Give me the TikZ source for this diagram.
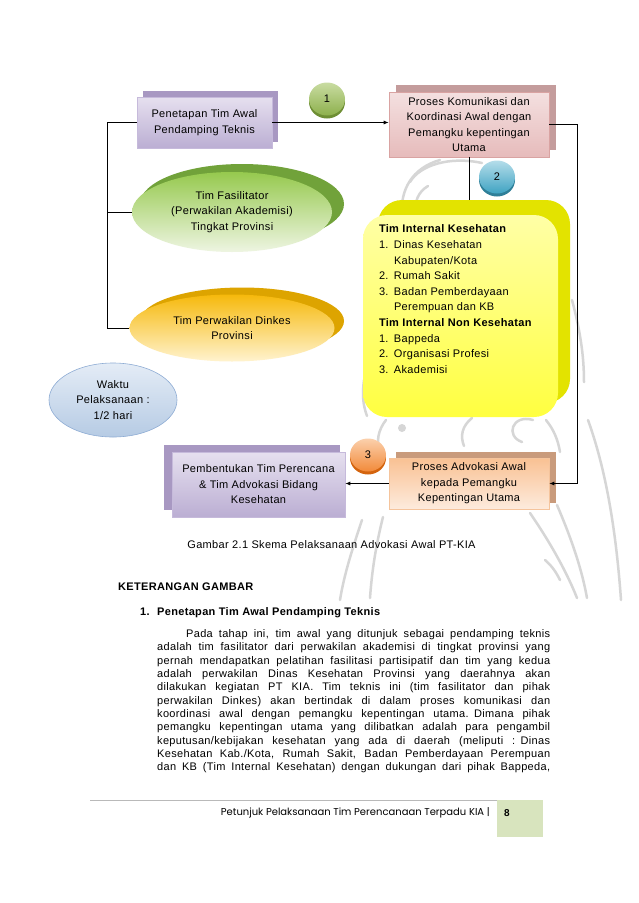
\documentclass[tikz,border=0pt]{standalone}
\usepackage{fontspec}
\setmainfont[LetterSpace=3]{Liberation Sans}
\newfontfamily\footfont{Poppins}
\usetikzlibrary{arrows.meta,positioning,shapes.geometric,calc}
\definecolor{LilacBack}{HTML}{A898C2}
\definecolor{LilacTop}{HTML}{E6E0EF}
\definecolor{LilacBot}{HTML}{BBAED3}
\definecolor{LilacEdge}{HTML}{C6BADB}
\definecolor{RoseBack}{HTML}{C49C9C}
\definecolor{RoseTop}{HTML}{F4E0E0}
\definecolor{RoseBot}{HTML}{E6BBBB}
\definecolor{RoseEdge}{HTML}{D9A3A2}
\definecolor{PeachBack}{HTML}{C99B7C}
\definecolor{PeachTop}{HTML}{F9C193}
\definecolor{PeachBot}{HTML}{FDEBDD}
\definecolor{PeachEdge}{HTML}{F5C49C}
\definecolor{LeafBack}{HTML}{71A23A}
\definecolor{LeafTop}{HTML}{96C94E}
\definecolor{LeafBot}{HTML}{EEF5E2}
\definecolor{GoldBack}{HTML}{DDA400}
\definecolor{GoldTop}{HTML}{F6B90C}
\definecolor{GoldBot}{HTML}{FFF3CF}
\definecolor{SkyTop}{HTML}{E4ECF6}
\definecolor{SkyBot}{HTML}{B6CBE4}
\definecolor{SkyEdge}{HTML}{8EACD4}
\definecolor{LemonBack}{HTML}{E3E300}
\definecolor{LemonTop}{HTML}{FFFFA6}
\definecolor{LemonBot}{HTML}{FFFF40}
\definecolor{OneBack}{HTML}{6E8E34}
\definecolor{OneTop}{HTML}{C9DCA2}
\definecolor{OneBot}{HTML}{8DB04C}
\definecolor{TwoBack}{HTML}{2F7F98}
\definecolor{TwoTop}{HTML}{B5DDEA}
\definecolor{TwoBot}{HTML}{3FA3C2}
\definecolor{ThreeBack}{HTML}{D4640E}
\definecolor{ThreeTop}{HTML}{FBD0AC}
\definecolor{ThreeBot}{HTML}{F28A3A}
\definecolor{Watermark}{HTML}{D6D6D6}
\definecolor{FootGreen}{HTML}{D8E4BE}
\newcommand{\fitline}[2][393pt]{{\spaceskip=0.28em plus 1fil\makebox[#1][s]{#2}}}

\begin{document}
\begin{tikzpicture}[x=1pt,y=-1pt,
    lbl/.style={font=\fontsize{11}{15.5}\selectfont, align=center, inner sep=0pt},
    backrect/.style={fill=#1, inner sep=0pt},
    facerect/.style={draw=#1, line width=0.6pt, lbl},
    backoval/.style={ellipse, fill=#1, inner sep=0pt},
    faceoval/.style={ellipse, lbl},
    stepnum/.style={ellipse, lbl, minimum width=36pt, minimum height=33pt},
    link/.style={line width=0.8pt},
    linkarrow/.style={link, -{Latex[length=5pt,width=4pt]}}]
    \useasboundingbox[fill=white] (0,0) rectangle (638,903);

    % Watermark
    \begin{scope}[draw=Watermark, line width=2.5pt, line cap=round]
        \draw (410,182) .. controls (420,165) and (450,156) .. (482,163);
        \draw (440,160) .. controls (412,168) and (400,190) .. (402,215);
        \draw (428,186) .. controls (418,192) and (414,202) .. (416,214);
        \draw (364,380) .. controls (362,395) and (363,405) .. (367,416);
        \draw (386,420) .. controls (378,430) and (376,442) .. (380,452);
        \draw (472,418) .. controls (462,426) and (460,436) .. (464,446);
        \draw (533,420) .. controls (512,414) and (505,436) .. (522,442);
        \draw (546,420) .. controls (554,430) and (558,440) .. (560,452);
        \draw (572,300) .. controls (580,330) and (584,355) .. (584,382);
        \draw (588,420) .. controls (606,470) and (616,530) .. (621,600);
        \draw (557,505) .. controls (572,540) and (582,570) .. (587,598);
        \draw (530,513) .. controls (552,545) and (568,575) .. (577,598);
        \draw (383,517) .. controls (376,545) and (372,570) .. (370,598);
        \draw (362,520) .. controls (352,550) and (344,575) .. (340,600);
        \draw (545,560) .. controls (552,566) and (556,572) .. (560,580);
        \fill[Watermark] (402,428) circle (4);
    \end{scope}

    % Tim awal
    \node[backrect=LilacBack, minimum width=135pt, minimum height=51pt] (setupback) at (210.5,116.5) {};
    \node[facerect=LilacEdge, top color=LilacTop, bottom color=LilacBot,
          minimum width=135pt, minimum height=51pt] (setup) at (204.5,122.5)
          {Penetapan Tim Awal\\Pendamping Teknis};
    \node[backoval=LeafBack, minimum width=204pt, minimum height=80pt] (fasilback) at (242,204) {};
    \node[faceoval, top color=LeafTop, bottom color=LeafBot,
          minimum width=200pt, minimum height=80pt] (fasil) at (232,212)
          {Tim Fasilitator\\(Perwakilan Akademisi)\\Tingkat Provinsi};
    \node[backoval=GoldBack, minimum width=204pt, minimum height=67pt] (dinkesback) at (242,321) {};
    \node[faceoval, top color=GoldTop, bottom color=GoldBot,
          minimum width=205pt, minimum height=67pt] (dinkes) at (232,328)
          {Tim Perwakilan Dinkes\\Provinsi};
    \node[faceoval, draw=SkyEdge, line width=0.6pt, top color=SkyTop, bottom color=SkyBot,
          minimum width=128pt, minimum height=74pt] (waktu) at (113,400)
          {Waktu\\Pelaksanaan :\\1/2 hari};

    % Komunikasi dan koordinasi
    \node[backrect=RoseBack, minimum width=160pt, minimum height=65pt] (komuback) at (476,117.5) {};
    \node[facerect=RoseEdge, top color=RoseTop, bottom color=RoseBot,
          minimum width=160pt, minimum height=65pt] (komu) at (469,124.5)
          {Proses Komunikasi dan\\Koordinasi Awal dengan\\Pemangku kepentingan\\Utama};

    % Tim internal
    \node[backrect=LemonBack, rounded corners=24pt, minimum width=192pt, minimum height=203pt] (yback) at (474,301.5) {};
    \node[top color=LemonTop, bottom color=LemonBot, rounded corners=24pt, inner sep=0pt,
          minimum width=195pt, minimum height=202pt] (ytim) at (460.5,316) {};
    \node[anchor=north west, inner sep=0pt, align=left, font=\fontsize{11}{15.6}\selectfont]
          (ylist) at ($(ytim.north west)+(16,10)$)
          {\textbf{Tim Internal Kesehatan}\\
           \makebox[15pt][l]{1.}Dinas Kesehatan\\
           \hspace*{15pt}Kabupaten/Kota\\
           \makebox[15pt][l]{2.}Rumah Sakit\\
           \makebox[15pt][l]{3.}Badan Pemberdayaan\\
           \hspace*{15pt}Perempuan dan KB\\
           \textbf{Tim Internal Non Kesehatan}\\
           \makebox[15pt][l]{1.}Bappeda\\
           \makebox[15pt][l]{2.}Organisasi Profesi\\
           \makebox[15pt][l]{3.}Akademisi};

    % Advokasi dan pembentukan
    \node[backrect=PeachBack, minimum width=160pt, minimum height=51pt] (advoback) at (476,477.5) {};
    \node[facerect=PeachEdge, top color=PeachTop, bottom color=PeachBot,
          minimum width=160pt, minimum height=51pt] (advo) at (469,483.5)
          {Proses Advokasi Awal\\kepada Pemangku\\Kepentingan Utama};
    \node[backrect=LilacBack, minimum width=176pt, minimum height=65pt] (formback) at (252,477.5) {};
    \node[facerect=LilacEdge, top color=LilacTop, bottom color=LilacBot,
          minimum width=173pt, minimum height=65pt] (form) at (258.5,484.5)
          {Pembentukan Tim Perencana\\\& Tim Advokasi Bidang\\Kesehatan};

    % Connectors
    \coordinate (busL) at (107,0);
    \coordinate (busR) at (577,0);
    \draw[link] (setup.west) -- (setup.west -| busL) |- (dinkes.west);
    \draw[link] (fasil.west) -- (fasil.west -| busL);
    \draw[linkarrow] (setup.east) -- (setup.east -| komu.west);
    \draw[link] (komu.south) -- (komu.south |- yback.north);
    \draw[linkarrow] (komu.east) -- (komu.east -| busR) |- (advo.east);
    \draw[linkarrow] (advo.west) -- (advo.west -| form.east);

    % Step numbers
    \node[backoval=OneBack, minimum width=36pt, minimum height=33pt] (oneback) at (327,102) {};
    \node[stepnum, top color=OneTop, bottom color=OneBot] (one) at (327,99) {1};
    \node[backoval=TwoBack, minimum width=36pt, minimum height=33pt] (twoback) at (497,180) {};
    \node[stepnum, top color=TwoTop, bottom color=TwoBot] (two) at (497,177) {2};
    \node[backoval=ThreeBack, minimum width=36pt, minimum height=33pt] (threeback) at (368,458) {};
    \node[stepnum, top color=ThreeTop, bottom color=ThreeBot] (three) at (368,455) {3};

    % Caption and text
    \node[lbl] (caption) at (331.5,545) {Gambar 2.1 Skema Pelaksanaan Advokasi Awal PT-KIA};
    \node[lbl, anchor=west, font=\fontsize{11}{13}\selectfont\bfseries] (kethead) at (118,587) {KETERANGAN GAMBAR};
    \node[lbl, anchor=west, font=\fontsize{11}{13}\selectfont\bfseries] (item) at (140,613)
          {\makebox[17pt][l]{1.}Penetapan Tim Awal Pendamping Teknis};
    \node[anchor=north west, inner sep=0pt, text width=393pt, font=\fontsize{11}{13.3}\selectfont]
          (para) at (157,629.5)
          {\hspace*{29pt}\fitline[364pt]{Pada tahap ini, tim awal yang ditunjuk sebagai pendamping teknis}\\
           \fitline{adalah tim fasilitator dari perwakilan akademisi di tingkat provinsi yang}\\
           \fitline{pernah mendapatkan pelatihan fasilitasi partisipatif dan tim yang kedua}\\
           \fitline{adalah perwakilan Dinas Kesehatan Provinsi yang daerahnya akan}\\
           \fitline{dilakukan kegiatan PT KIA. Tim teknis ini (tim fasilitator dan pihak}\\
           \fitline{perwakilan Dinkes) akan bertindak di dalam proses komunikasi dan}\\
           \fitline{koordinasi awal dengan pemangku kepentingan utama. Dimana pihak}\\
           \fitline{pemangku kepentingan utama yang dilibatkan adalah para pengambil}\\
           \fitline{keputusan/kebijakan kesehatan yang ada di daerah (meliputi : Dinas}\\
           \fitline{Kesehatan Kab./Kota, Rumah Sakit, Badan Pemberdayaan Perempuan}\\
           \fitline{dan KB (Tim Internal Kesehatan) dengan dukungan dari pihak Bappeda,}};

    % Footer
    \draw[gray!55, line width=1pt] (90,800) -- (497,800);
    \fill[FootGreen] (497,800) rectangle (543,837);
    \node[anchor=east, inner sep=0pt, font=\footfont\fontsize{10}{12}\selectfont] (foot) at (490,813)
          {Petunjuk Pelaksanaan Tim Perencanaan Terpadu KIA \textbar};
    \node[anchor=west, inner sep=0pt, font=\fontsize{10}{12}\selectfont\bfseries] (page) at (504,813) {8};
\end{tikzpicture}
\end{document}
